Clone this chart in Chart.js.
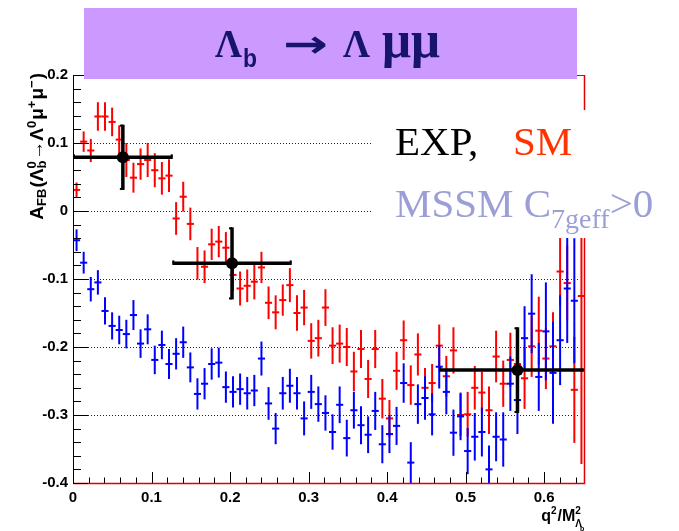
<!DOCTYPE html>
<html>
<head>
<meta charset="utf-8">
<title>AFB Lambda_b</title>
<script src="https://cdn.jsdelivr.net/npm/chart.js@4.4.1/dist/chart.umd.min.js"></script>
<style>
  html, body { margin: 0; padding: 0; background: #fff; }
  #afbChart { display: block; }
</style>
</head>
<body>
<canvas id="afbChart" width="679" height="531"></canvas>
<script>
// q^2/M^2 binning of the simulated samples
const qBinCount = 72;
const qMax = 0.652;

// SM prediction, A_FB per bin and its error
const smAfb = [0.031, 0.102, 0.089, 0.139, 0.139, 0.131, 0.105, 0.075, 0.049, 0.069,
  0.075, 0.060, 0.048, 0.052, -0.011, 0.021, -0.019, -0.077, -0.082, -0.049,
  -0.045, -0.054, -0.094, -0.114, -0.110, -0.104, -0.083, -0.135, -0.149, -0.131,
  -0.109, -0.150, -0.142, -0.191, -0.187, -0.142, -0.198, -0.195, -0.200, -0.236,
  -0.203, -0.247, -0.203, -0.276, -0.305, -0.235, -0.190, -0.256, -0.211, -0.260,
  -0.253, -0.198, -0.243, -0.205, -0.300, -0.299, -0.260, -0.267, -0.293, -0.214,
  -0.254, -0.219, -0.225, -0.246, -0.199, -0.176, -0.217, -0.199, -0.089, -0.106,
  -0.263, -0.125];
const smErr = [0.011, 0.015, 0.017, 0.021, 0.021, 0.021, 0.021, 0.025, 0.022, 0.023,
  0.025, 0.025, 0.024, 0.024, 0.024, 0.022, 0.024, 0.024, 0.024, 0.023,
  0.023, 0.023, 0.024, 0.025, 0.024, 0.026, 0.023, 0.024, 0.025, 0.023,
  0.025, 0.026, 0.026, 0.026, 0.027, 0.027, 0.027, 0.028, 0.028, 0.029,
  0.028, 0.028, 0.028, 0.029, 0.027, 0.028, 0.029, 0.029, 0.031, 0.029,
  0.028, 0.031, 0.030, 0.034, 0.031, 0.033, 0.032, 0.031, 0.035, 0.038,
  0.034, 0.040, 0.040, 0.045, 0.045, 0.050, 0.045, 0.050, 0.050, 0.055,
  0.078, 0.247];

// MSSM with C7eff > 0
const mssmAfb = [-0.043, -0.076, -0.115, -0.105, -0.147, -0.169, -0.175, -0.181, -0.153, -0.195,
  -0.174, -0.219, -0.197, -0.225, -0.210, -0.193, -0.230, -0.269, -0.254, -0.225,
  -0.223, -0.259, -0.266, -0.262, -0.268, -0.264, -0.217, -0.283, -0.320, -0.268,
  -0.257, -0.268, -0.305, -0.266, -0.284, -0.297, -0.325, -0.285, -0.334, -0.293,
  -0.315, -0.329, -0.294, -0.343, -0.328, -0.316, -0.253, -0.370, -0.284, -0.275,
  -0.299, -0.229, -0.266, -0.326, -0.302, -0.353, -0.332, -0.325, -0.380, -0.332,
  -0.336, -0.254, -0.278, -0.187, -0.151, -0.244, -0.177, -0.238, -0.190, -0.114,
  -0.132, null];
const mssmErr = [0.016, 0.016, 0.018, 0.018, 0.020, 0.020, 0.021, 0.021, 0.022, 0.021,
  0.022, 0.021, 0.021, 0.022, 0.023, 0.023, 0.022, 0.023, 0.023, 0.023,
  0.022, 0.023, 0.023, 0.023, 0.024, 0.023, 0.025, 0.024, 0.023, 0.024,
  0.025, 0.024, 0.025, 0.025, 0.026, 0.026, 0.026, 0.027, 0.027, 0.027,
  0.028, 0.027, 0.028, 0.028, 0.028, 0.028, 0.029, 0.030, 0.029, 0.032,
  0.031, 0.032, 0.033, 0.034, 0.035, 0.034, 0.035, 0.036, 0.035, 0.036,
  0.040, 0.040, 0.050, 0.047, 0.058, 0.050, 0.072, 0.075, 0.066, 0.080,
  0.092, null];

// expected measurement in three wide bins
const expQ = [0.0635, 0.2025, 0.566];
const expQErr = [0.0635, 0.076, 0.100];
const expAfb = [0.079, -0.077, -0.234];
const expAfbErr = [0.048, 0.053, 0.063];

// axes
const xTicks = [0, 0.1, 0.2, 0.3, 0.4, 0.5, 0.6];
const yTicks = [0.2, 0.1, 0, -0.1, -0.2, -0.3, -0.4];
const gridValues = [0.1, 0, -0.1, -0.2, -0.3];

const binWidth = qMax / qBinCount;
const qCentres = Array.from({ length: qBinCount }, (_, i) => (i + 0.5) * binWidth);

const tickFont = { family: '"Liberation Sans", Arial, sans-serif', size: 15, weight: 'bold' };

function toPoints(values) {
  const pts = [];
  values.forEach((v, i) => { if (v !== null) pts.push({ x: qCentres[i], y: v }); });
  return pts;
}

function line(ctx, x1, y1, x2, y2) {
  ctx.beginPath();
  ctx.moveTo(x1, y1);
  ctx.lineTo(x2, y2);
  ctx.stroke();
}

// text squeezed or stretched to a given width
function fitText(ctx, text, font, x, baseline, width) {
  ctx.save();
  ctx.font = font;
  const w = ctx.measureText(text).width;
  ctx.translate(x, baseline);
  ctx.scale(width / w, 1);
  ctx.fillText(text, 0, 0);
  ctx.restore();
}

// runs of text with sub/superscripts; returns advance
function richText(ctx, parts, big, small, x0, draw) {
  let x = x0;
  parts.forEach(p => {
    if (p.t) {
      ctx.font = big;
      if (draw) ctx.fillText(p.t, x, 0);
      x += ctx.measureText(p.t).width;
    } else {
      ctx.font = small;
      let w = 0;
      if (p.sup) {
        if (draw) ctx.fillText(p.sup, x, p.supDy || -7);
        w = Math.max(w, ctx.measureText(p.sup).width);
      }
      if (p.sub) {
        if (draw) ctx.fillText(p.sub, x, p.subDy || 3);
        w = Math.max(w, ctx.measureText(p.sub).width);
      }
      x += w + 1;
    }
  });
  return x - x0;
}

function drawBinned(ctx, xs, ys, values, errors, colour) {
  ctx.strokeStyle = colour;
  ctx.lineWidth = 2;
  values.forEach((v, i) => {
    if (v === null) return;
    const q = qCentres[i];
    const px = xs.getPixelForValue(q);
    const py = ys.getPixelForValue(v);
    line(ctx, px, ys.getPixelForValue(v + errors[i]), px, ys.getPixelForValue(v - errors[i]));
    line(ctx, xs.getPixelForValue(q - binWidth / 2), py, xs.getPixelForValue(q + binWidth / 2), py);
  });
}

const rootStylePlugin = {
  id: 'rootStyle',
  beforeDatasetsDraw(chart) {
    const { ctx, chartArea: a, scales: { x, y } } = chart;
    ctx.save();
    ctx.beginPath();
    ctx.rect(a.left, a.top, a.right - a.left, a.bottom - a.top);
    ctx.clip();

    // dotted horizontal grid
    ctx.strokeStyle = '#222';
    ctx.lineWidth = 1;
    ctx.setLineDash([1, 2]);
    gridValues.forEach(v => {
      const py = Math.round(y.getPixelForValue(v)) + 0.5;
      line(ctx, a.left, py, a.right - 6, py);
    });
    ctx.setLineDash([]);

    drawBinned(ctx, x, y, smAfb, smErr, '#ff0000');
    drawBinned(ctx, x, y, mssmAfb, mssmErr, '#0000ff');

    // expected measurement: wide bins with bracket ends
    ctx.strokeStyle = '#000';
    expQ.forEach((q, i) => {
      const px = x.getPixelForValue(q);
      const py = y.getPixelForValue(expAfb[i]);
      const top = y.getPixelForValue(expAfb[i] + expAfbErr[i]);
      const bot = y.getPixelForValue(expAfb[i] - expAfbErr[i]);
      const lft = x.getPixelForValue(q - expQErr[i]);
      const rgt = x.getPixelForValue(q + expQErr[i]);
      ctx.lineWidth = 3.5;
      line(ctx, px, top, px, bot);
      line(ctx, lft, py, rgt, py);
      ctx.lineWidth = 2;
      line(ctx, px - 3, top + 1, px, top + 1);
      line(ctx, px - 3, bot - 1, px, bot - 1);
      line(ctx, lft + 1, py - 3, lft + 1, py);
      line(ctx, rgt - 1, py - 3, rgt - 1, py);
    });
    ctx.restore();
  },
  afterDraw(chart) {
    const { ctx, chartArea: a, scales: { x, y } } = chart;
    ctx.save();

    // frame
    ctx.lineWidth = 1;
    ctx.strokeStyle = '#444';
    line(ctx, a.left, a.top + 0.5, a.right, a.top + 0.5);
    ctx.strokeStyle = '#000';
    line(ctx, a.left + 0.5, a.top, a.left + 0.5, a.bottom);
    ctx.strokeStyle = '#e00000';
    ctx.lineWidth = 1.5;
    line(ctx, a.right - 0.5, a.top, a.right - 0.5, a.bottom + 1);
    line(ctx, a.left, a.bottom + 0.5, a.right, a.bottom + 0.5);

    // ticks, major and minor
    ctx.strokeStyle = '#000';
    ctx.lineWidth = 1;
    for (let i = 0; i < yTicks.length; i++) {
      const py = Math.round(y.getPixelForValue(yTicks[i])) + 0.5;
      line(ctx, a.left, py, a.left + 15, py);
      if (i + 1 < yTicks.length) {
        const step = (yTicks[i + 1] - yTicks[i]) / 5;
        for (let k = 1; k < 5; k++) {
          const my = Math.round(y.getPixelForValue(yTicks[i] + k * step)) + 0.5;
          line(ctx, a.left, my, a.left + 8, my);
        }
      }
    }
    for (let i = 0; i < xTicks.length; i++) {
      const px = Math.round(x.getPixelForValue(xTicks[i])) + 0.5;
      line(ctx, px, a.bottom, px, a.bottom - 11);
      const step = (xTicks[1] - xTicks[0]) / 5;
      for (let k = 1; k < 5; k++) {
        const v = xTicks[i] + k * step;
        if (v > qMax) break;
        const mx = Math.round(x.getPixelForValue(v)) + 0.5;
        line(ctx, mx, a.bottom, mx, a.bottom - 5.5);
      }
    }

    // legend panel
    ctx.fillStyle = '#fff';
    ctx.fillRect(372, 110, 320, 128);
    ctx.textAlign = 'left';
    ctx.textBaseline = 'alphabetic';
    const serif = '"Liberation Serif", "Times New Roman", serif';
    ctx.font = '41px ' + serif;
    ctx.fillStyle = '#000';
    ctx.fillText('EXP,', 395, 155);
    ctx.fillStyle = '#ff3300';
    ctx.fillText('SM', 513, 155);
    ctx.fillStyle = '#9c9fd6';
    ctx.fillText('MSSM C', 395, 217);
    let lx = 395 + ctx.measureText('MSSM C').width;
    ctx.font = '28px ' + serif;
    ctx.fillText('7geff', lx, 228);
    lx += ctx.measureText('7geff').width;
    ctx.font = '41px ' + serif;
    ctx.fillText('>0', lx, 217);

    // title banner
    ctx.fillStyle = '#cc99ff';
    ctx.fillRect(84, 8, 493, 71);
    ctx.fillStyle = '#16146c';
    fitText(ctx, 'Λ', 'bold 39px ' + serif, 215, 57, 27);
    fitText(ctx, 'b', 'bold 25px "Liberation Sans", sans-serif', 243, 67, 14);
    fitText(ctx, '→', 'bold 38px "DejaVu Sans", sans-serif', 283, 57, 45);
    fitText(ctx, 'Λ', 'bold 39px ' + serif, 343, 57, 27);
    fitText(ctx, 'μμ', 'bold 52px ' + serif, 382, 57, 58);

    // y axis title, rotated and aligned to the top of the axis
    ctx.fillStyle = '#000';
    const yParts = [
      { t: 'A' }, { sub: 'FB', subDy: 3 }, { t: '(Λ' }, { sup: '0', sub: 'b', supDy: -7, subDy: 3 },
      { t: '→Λ' }, { sup: '0', supDy: -7 }, { t: 'μ' }, { sup: '+', supDy: -7 },
      { t: 'μ' }, { sup: '−', supDy: -7 }, { t: ')' }
    ];
    const big = 'bold 19px "Liberation Sans", "DejaVu Sans", sans-serif';
    const small = 'bold 13px "Liberation Sans", "DejaVu Sans", sans-serif';
    const len = richText(ctx, yParts, big, small, 0, false);
    ctx.translate(43, a.top - 2 + len);
    ctx.rotate(-Math.PI / 2);
    richText(ctx, yParts, big, small, 0, true);
    ctx.setTransform(1, 0, 0, 1, 0, 0);

    // x axis title at the right end
    const xParts = [{ t: 'q' }, { sup: '2', supDy: -7 }, { t: '/M' }, { sup: '2', sub: 'Λ', supDy: -7, subDy: 6 }];
    const xBig = 'bold 16px "Liberation Sans", sans-serif';
    const xSmall = 'bold 10px "Liberation Sans", sans-serif';
    const xl = richText(ctx, xParts, xBig, xSmall, 0, false);
    ctx.translate(a.right - xl - 2, 521);
    const endX = richText(ctx, xParts, xBig, xSmall, 0, true);
    ctx.font = 'bold 7px "Liberation Sans", sans-serif';
    ctx.fillText('b', endX - 3, 10);
    ctx.restore();
  }
};

new Chart(document.getElementById('afbChart'), {
  type: 'scatter',
  data: {
    datasets: [
      { label: 'SM', data: toPoints(smAfb), pointRadius: 0, showLine: false },
      { label: 'MSSM', data: toPoints(mssmAfb), pointRadius: 0, showLine: false },
      {
        label: 'EXP',
        data: expQ.map((q, i) => ({ x: q, y: expAfb[i] })),
        pointStyle: 'circle',
        pointRadius: 6,
        pointBorderWidth: 0,
        pointBackgroundColor: '#000',
        pointBorderColor: '#000',
        showLine: false
      }
    ]
  },
  options: {
    responsive: false,
    animation: false,
    devicePixelRatio: 1,
    events: [],
    layout: { padding: { left: 0, top: 75, right: 94, bottom: 0 } },
    plugins: { legend: { display: false }, tooltip: { enabled: false } },
    scales: {
      x: {
        type: 'linear',
        min: 0,
        max: qMax,
        grid: { display: false, drawTicks: false },
        border: { display: false },
        ticks: {
          font: tickFont, color: '#000', padding: 6, maxRotation: 0, autoSkip: false,
          callback: v => (v === 0 ? '0' : v.toFixed(1))
        },
        afterBuildTicks: s => { s.ticks = xTicks.map(v => ({ value: v })); },
        afterFit: s => { s.height = 48; }
      },
      y: {
        type: 'linear',
        min: -0.4,
        max: 0.2,
        grid: { display: false, drawTicks: false },
        border: { display: false },
        ticks: {
          font: tickFont, color: '#000', padding: 5, autoSkip: false,
          callback: v => (v === 0 ? '0' : v.toFixed(1))
        },
        afterBuildTicks: s => { s.ticks = yTicks.map(v => ({ value: v })); },
        afterFit: s => { s.width = 73; }
      }
    }
  },
  plugins: [rootStylePlugin]
});
</script>
</body>
</html>
